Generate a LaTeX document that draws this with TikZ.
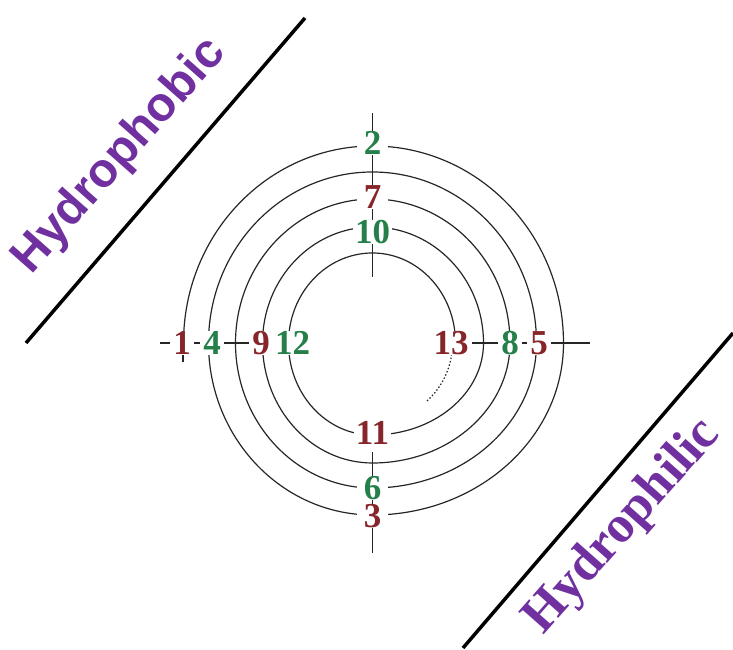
\documentclass[tikz,border=0pt]{standalone}
\usepackage{fontspec}
\setmainfont{Liberation Serif}
\newfontfamily\phobfont{Liberation Sans}
\usepackage{tikz}
\definecolor{colR}{RGB}{135,38,42}
\definecolor{colG}{RGB}{36,128,72}
\definecolor{colP}{RGB}{112,48,160}
\newcommand{\resfont}{\fontsize{35}{35}\selectfont\bfseries}

\begin{document}
\begin{tikzpicture}[x=1pt,y=1pt,
  ring/.style={line width=1.2pt, black!85},
  axis/.style={line width=1.6pt, black!85},
  divide/.style={line width=3.5pt},
  res/.style={font=\resfont, fill=white,
    inner ysep=0.5pt, inner xsep=3pt},
  resv/.style={res, inner xsep=7pt},
  side/.style={text=colP, rotate=48.5, inner sep=0pt}
]
\useasboundingbox (0,0) rectangle (733,650);

% dividing lines
\coordinate (d1a) at (26,307);
\coordinate (d1b) at (305,632);
\coordinate (d2a) at (463,2);
\coordinate (d2b) at (733,317);
\draw[divide] (d1a) -- (d1b);
\draw[divide] (d2a) -- (d2b);

\node[side, font=\phobfont\fontsize{48}{48}\selectfont\bfseries]
  (phob) at (120,494) {Hydrophobic};
\node[side, font=\fontsize{52}{52}\selectfont\bfseries]
  (phil) at (623,123) {Hydrophilic};

\begin{scope}[shift={(372.5,307)}]
% axes
\draw[axis] (0,230) -- (0,66);
\draw[axis] (0,-109) -- (0,-210);
\draw[axis] (-212.5,0) -- (-72,0);
\draw[axis] (72,0) -- (217.5,0);
\draw[axis] (-189.5,-12) -- (-189.5,-19);

% upper half of the spiral
\foreach \l/\t/\r in {189/197/191, 164/171/164,
                      137/144/137.5, 110/116/111, 84/90/83}{
  \draw[ring] (-\l,0)
    arc[start angle=180, end angle=90, x radius=\l, y radius=\t];
  \draw[ring] (0,\t)
    arc[start angle=90, end angle=0, x radius=\r, y radius=\t];
}
% lower half of the spiral
\foreach \r/\b/\l in {191/172/164, 164/145/137,
                      137.5/120/110, 111/92/84}{
  \draw[ring] (\r,0)
    arc[start angle=0, end angle=-90, x radius=\r, y radius=\b];
  \draw[ring] (0,-\b)
    arc[start angle=-90, end angle=-180, x radius=\l, y radius=\b];
}
\draw[ring, dash pattern=on 1.5pt off 2pt] (-8:80)
  arc[start angle=-8, end angle=-48, radius=78];

% residues
\node[res, text=colR]  (r1)  at (-190.5,0) {1};
\node[resv, text=colG] (r2)  at (0,200)    {2};
\node[resv, text=colR] (r3)  at (0,-173)   {3};
\node[res, text=colG]  (r4)  at (-160.5,0) {4};
\node[res, text=colR]  (r5)  at (166.5,0)  {5};
\node[resv, text=colG] (r6)  at (0,-145)   {6};
\node[resv, text=colR] (r7)  at (0,146)    {7};
\node[res, text=colG]  (r8)  at (137.5,0)  {8};
\node[res, text=colR]  (r9)  at (-111.5,0) {9};
\node[resv, text=colG, inner xsep=2pt] (r10) at (0,111) {10};
\node[resv, text=colR, inner xsep=2pt] (r11) at (0,-90) {11};
\node[res, text=colG]  (r12) at (-80,0)    {12};
\node[res, text=colR]  (r13) at (78.5,0)   {13};
\end{scope}

\end{tikzpicture}
\end{document}
